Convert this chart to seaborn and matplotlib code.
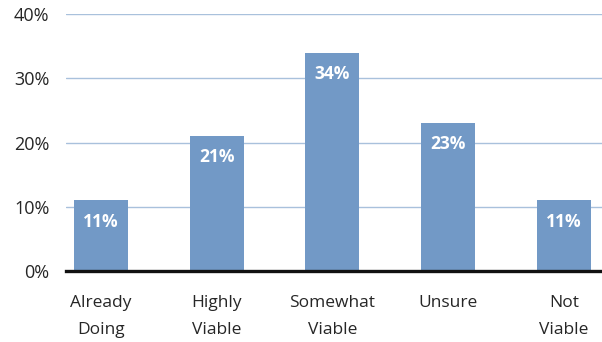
import matplotlib
matplotlib.use("Agg")
import matplotlib.pyplot as plt
import seaborn as sns
import pandas as pd

categories = ["Already\nDoing", "Highly\nViable", "Somewhat\nViable", "Unsure", "Not\nViable"]
values = [11, 21, 34, 23, 11]
y_ticks = [0, 10, 20, 30, 40]
y_tick_labels = ["0%", "10%", "20%", "30%", "40%"]

sns.set_theme(style="white")
plt.rcParams["font.family"] = ["Open Sans", "DejaVu Sans"]

df = pd.DataFrame({"category": categories, "value": values})

fig = plt.figure(figsize=(6.02, 3.42), dpi=100)
ax = fig.add_axes([66 / 602, 1 - 271 / 342, 1 - 66 / 602, (271 - 14) / 342])

sns.barplot(data=df, x="category", y="value", color="#7299C6", saturation=1,
            width=0.467, linewidth=0, ax=ax, zorder=3)

ax.set_ylim(0, 40)
ax.set_xlim(-0.302, 4.33)
ax.set_yticks(y_ticks)
ax.set_yticklabels(y_tick_labels, fontsize=13, color="#262626")
ax.tick_params(axis="x", labelsize=12.5, colors="#262626", pad=17, length=0)
ax.tick_params(axis="y", pad=12, length=0)
for lbl in ax.get_xticklabels():
    lbl.set_linespacing(1.95)
    lbl.set_verticalalignment("top")

ax.set_xlabel("")
ax.set_ylabel("")
ax.grid(axis="y", color="#A9C1DC", linewidth=1.0, zorder=0)
ax.set_axisbelow(True)
for side in ["top", "right", "left"]:
    ax.spines[side].set_visible(False)
ax.spines["bottom"].set_color("#111111")
ax.spines["bottom"].set_linewidth(2.4)
ax.spines["bottom"].set_zorder(5)

for i, v in enumerate(values):
    ax.text(i, v - 3.3, f"{v}%", ha="center", va="center", color="white",
            fontsize=12.5, fontweight="bold", zorder=4)

fig.savefig("out.png", dpi=100)
